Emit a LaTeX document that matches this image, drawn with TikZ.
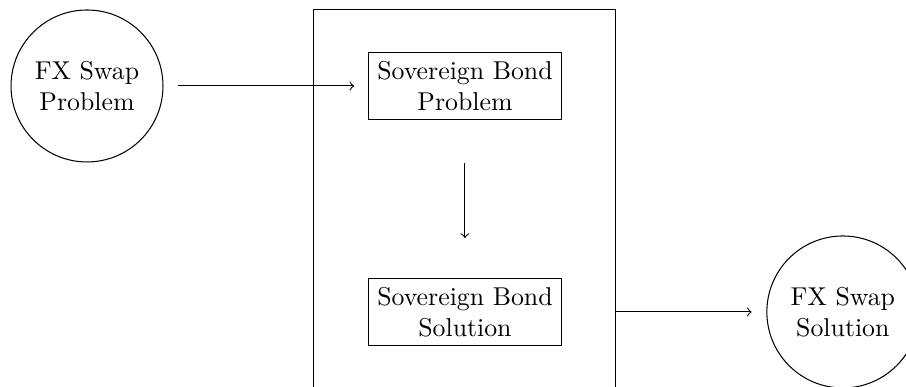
\documentclass[tikz,border=0pt]{standalone}
\begin{document}
\begin{tikzpicture}[
    fxcirc/.style={draw, circle, align=center, minimum size=2.07cm},
    bondbox/.style={draw, rectangle, align=center}]
    \clip (0,0) rectangle (12.34,-5.26);

    % outer frame
    \node [draw, minimum width=4.113cm, minimum height=5.464cm] (panel) at (6.333,-2.868) {};

    % entities
    \node [fxcirc]  (fxprob) at (1.185,-1.171)  {FX Swap\\Problem};
    \node [bondbox] (bprob)  at (6.333,-1.171)  {Sovereign Bond\\Problem};
    \node [bondbox] (bsol)   at (6.333,-4.249)  {Sovereign Bond\\Solution};
    \node [fxcirc]  (fxsol)  at (11.48,-4.249)  {FX Swap\\Solution};

    % flow
    \draw [->, shorten <=0.2cm, shorten >=0.19cm] (fxprob) -- (bprob);
    \draw [->, shorten <=0.586cm, shorten >=0.545cm] (bprob) -- (bsol);
    \draw [->, shorten >=0.2cm] (panel.east |- bsol) -- (fxsol);
\end{tikzpicture}
\end{document}
